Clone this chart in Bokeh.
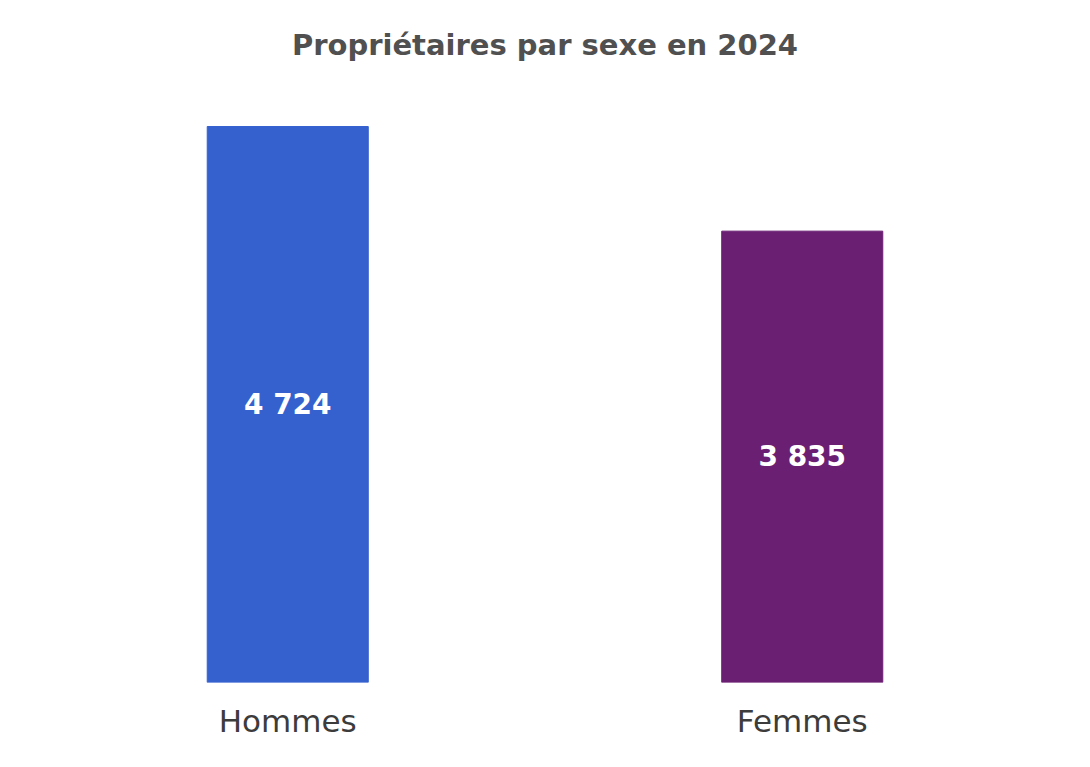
from bokeh.plotting import figure
from bokeh.models import ColumnDataSource, Range1d, FactorRange
from bokeh.embed import file_html
from bokeh.resources import INLINE
from bokeh.core.properties import value

# Données
categories = ["Hommes", "Femmes"]
counts = [4724, 3835]
colors = ["#3561cf", "#6b1f73"]
title_text = "Propriétaires par sexe en 2024"

labels = [f"{v:,}".replace(",", " ") for v in counts]
mids = [v / 2 for v in counts]

source = ColumnDataSource(data=dict(cat=categories, count=counts, color=colors,
                                    label=labels, mid=mids))

p = figure(x_range=FactorRange(*categories, range_padding=0), y_range=Range1d(0, 5115),
           width=1074, height=751, output_backend="svg", toolbar_location=None,
           tools="", title=title_text,
           min_border_left=30, min_border_right=15, min_border_top=80, min_border_bottom=69)

p.vbar(x="cat", top="count", width=0.313, color="color", source=source)

p.text(x="cat", y="mid", text="label", source=source, text_align="center",
       text_baseline="middle", text_color="white", text_font=value("DejaVu Sans"),
       text_font_size="28px", text_font_style="bold")

# Titre
p.title.align = "center"
p.title.text_font = "DejaVu Sans"
p.title.text_font_size = "29px"
p.title.text_font_style = "bold"
p.title.text_color = "#505050"
p.title.standoff = 38

# Axes
p.yaxis.visible = False
p.xaxis.axis_line_color = None
p.xaxis.major_tick_line_color = None
p.xaxis.major_tick_out = 0
p.xaxis.major_label_standoff = 20
p.xaxis.major_label_text_font = "DejaVu Sans"
p.xaxis.major_label_text_font_size = "31px"
p.xaxis.major_label_text_color = "#3c3c3c"
p.grid.grid_line_color = None
p.outline_line_color = None

open("out.html", "w").write(file_html(p, INLINE))
